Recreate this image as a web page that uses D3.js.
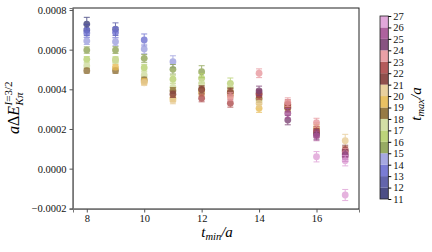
<!DOCTYPE html>
<html>
<head>
<meta charset="utf-8">
<script src="https://cdn.jsdelivr.net/npm/d3@7"></script>
<style>
body { margin: 0; background: #fff; }
</style>
</head>
<body>
<div id="viz"></div>
<script>
var width = 432;
var height = 252;
var serif = "'Liberation Serif', 'Times New Roman', serif";

// t_min values on the x axis
var tMins = [8, 9, 10, 11, 12, 13, 14, 15, 16, 17];
// for each t_min, t_max runs from t_min+3 to t_min+10
var tMaxOffsets = [3, 4, 5, 6, 7, 8, 9, 10];

var energies = [
	[0.000729, 0.000699, 0.000684, 0.000644, 0.000598, 0.000551, 0.000519, 0.000494],
	[0.000703, 0.000686, 0.000640, 0.000598, 0.000549, 0.000545, 0.000494, 0.000512],
	[0.000649, 0.000603, 0.000556, 0.000509, 0.000472, 0.000447, 0.000440, 0.000433],
	[0.000539, 0.000501, 0.000451, 0.000410, 0.000393, 0.000355, 0.000343, 0.000375],
	[0.000489, 0.000456, 0.000430, 0.000400, 0.000385, 0.000383, 0.000398, 0.000355],
	[0.000430, 0.000410, 0.000388, 0.000375, 0.000380, 0.000385, 0.000330, 0.000363],
	[0.000345, 0.000355, 0.000304, 0.000330, 0.000380, 0.000372, 0.000481, 0.000392],
	[0.000305, 0.000315, 0.000320, 0.000310, 0.000325, 0.000335, 0.000245, 0.000279],
	[0.000200, 0.000209, 0.000181, 0.000190, 0.000232, 0.000172, 0.000165, 0.000060],
	[0.000141, 0.000094, 0.000086, 0.000078, 0.000070, 0.000060, 0.000040, -0.000133]
];

var errors = [
	[0.000034, 0.000028, 0.000022, 0.000018, 0.000016, 0.000014, 0.000013, 0.000012],
	[0.000032, 0.000026, 0.000020, 0.000017, 0.000015, 0.000014, 0.000013, 0.000013],
	[0.000030, 0.000024, 0.000020, 0.000017, 0.000015, 0.000014, 0.000014, 0.000014],
	[0.000030, 0.000024, 0.000020, 0.000018, 0.000016, 0.000016, 0.000016, 0.000016],
	[0.000030, 0.000024, 0.000020, 0.000018, 0.000017, 0.000017, 0.000018, 0.000018],
	[0.000027, 0.000022, 0.000020, 0.000018, 0.000018, 0.000018, 0.000020, 0.000020],
	[0.000020, 0.000020, 0.000020, 0.000020, 0.000020, 0.000022, 0.000022, 0.000024],
	[0.000020, 0.000020, 0.000020, 0.000021, 0.000022, 0.000022, 0.000024, 0.000024],
	[0.000022, 0.000022, 0.000022, 0.000022, 0.000022, 0.000024, 0.000024, 0.000026],
	[0.000032, 0.000024, 0.000024, 0.000024, 0.000024, 0.000024, 0.000026, 0.000028]
];

var yTicks = [-0.0002, 0.0000, 0.0002, 0.0004, 0.0006, 0.0008];
var xTicks = [8, 10, 12, 14, 16];
var tMaxTicks = d3.range(11, 28);

// one colour per colorbar bin (tab20b picks)
var binColors = ["#393b79", "#5254a3", "#6b6ecf", "#9c9ede",
	"#8ca252", "#b5cf6b", "#cedb9c",
	"#8c6d31", "#e7ba52", "#e7cb94",
	"#843c39", "#ad494a", "#e7969c",
	"#7b4173", "#a55194", "#de9ed6"];

var points = [];
tMins.forEach(function(t, i){
	tMaxOffsets.forEach(function(o, j){
		points.push({tmin: t, tmax: t + o, e: energies[i][j], err: errors[i][j]});
	});
});

var svg = d3.select('#viz')
	.append('svg')
	.attr("width", width)
	.attr("height", height);

var x = d3.scaleLinear().domain([7.52, 17.48]).range([73, 359]);
var y = d3.scaleLinear().domain([-0.0002035, 0.00081]).range([209, 8]);

var colorScale = d3.scaleQuantize().domain([11, 27]).range(binColors);
function colorOf(v){ return v >= 27 ? binColors[15] : colorScale(v); }

// frame
svg.append("rect")
	.attr("x", 73).attr("y", 8)
	.attr("width", 286).attr("height", 201)
	.attr("fill", "none")
	.attr("stroke", "#222")
	.attr("stroke-width", 1);

var xAxis = d3.axisBottom(x).tickValues(xTicks).tickSize(3.5).tickPadding(2).tickFormat(d3.format("d"));
var yAxis = d3.axisLeft(y).tickValues(yTicks).tickSize(3.5).tickPadding(3)
	.tickFormat(function(d){ return d3.format(".4f")(d).replace("-", "\u2212"); });

var gx = svg.append("g").attr("transform", "translate(0,209)").call(xAxis);
var gy = svg.append("g").attr("transform", "translate(73,0)").call(yAxis);
[gx, gy].forEach(function(g){
	g.attr("font-family", null);
	g.select(".domain").attr("stroke", "#777");
	g.selectAll(".tick line").attr("stroke", "#555");
	g.selectAll("text").attr("fill", "#111")
		.style("font-size", "10.5px")
		.style("font-family", serif);
});

// error bars + markers
var marks = svg.append("g").selectAll("g")
	.data(points)
	.enter()
	.append("g")
	.attr("opacity", 0.78);

marks.append("line")
	.attr("x1", function(d){ return x(d.tmin); })
	.attr("x2", function(d){ return x(d.tmin); })
	.attr("y1", function(d){ return y(d.e - d.err); })
	.attr("y2", function(d){ return y(d.e + d.err); })
	.attr("stroke", function(d){ return colorOf(d.tmax); })
	.attr("stroke-width", 1);

[-1, 1].forEach(function(s){
	marks.append("line")
		.attr("x1", function(d){ return x(d.tmin) - 3; })
		.attr("x2", function(d){ return x(d.tmin) + 3; })
		.attr("y1", function(d){ return y(d.e + s * d.err); })
		.attr("y2", function(d){ return y(d.e + s * d.err); })
		.attr("stroke", function(d){ return colorOf(d.tmax); })
		.attr("stroke-width", 1);
});

marks.append("circle")
	.attr("cx", function(d){ return x(d.tmin); })
	.attr("cy", function(d){ return y(d.e); })
	.attr("r", 3.4)
	.attr("fill", function(d){ return colorOf(d.tmax); });

// x label
var xl = svg.append("text")
	.attr("x", 217).attr("y", 237)
	.attr("text-anchor", "middle")
	.style("font-family", serif)
	.style("font-size", "15px")
	.style("font-style", "italic");
xl.append("tspan").text("t");
xl.append("tspan").style("font-size", "10.5px").attr("dy", 2.5).text("min");
xl.append("tspan").attr("dy", -2.5).text("/a");

// y label: a ΔE^{I=3/2}_{Kπ}
var yl = svg.append("g").attr("transform", "translate(19,134) rotate(-90)");
var ymain = yl.append("text").attr("x", 0).attr("y", 0)
	.style("font-family", serif).style("font-size", "16px");
ymain.append("tspan").style("font-style", "italic").text("a");
ymain.append("tspan").text("\u0394");
ymain.append("tspan").style("font-style", "italic").text("E");
var mw = ymain.node().getComputedTextLength() + 0.5;
var sup = yl.append("text").attr("x", mw).attr("y", -7)
	.style("font-family", serif).style("font-size", "11px");
sup.append("tspan").style("font-style", "italic").text("I");
sup.append("tspan").text("=3/2");
yl.append("text").attr("x", mw).attr("y", 4)
	.style("font-family", serif).style("font-size", "11px")
	.style("font-style", "italic").text("K\u03c0");

// colorbar
var cb = d3.scaleLinear().domain([11, 27]).range([199, 16]);
svg.append("g").selectAll("rect")
	.data(binColors)
	.enter()
	.append("rect")
	.attr("x", 380)
	.attr("y", function(d, i){ return cb(12 + i); })
	.attr("width", 8.3)
	.attr("height", function(d, i){ return cb(11 + i) - cb(12 + i); })
	.attr("fill", function(d){ return d; })
	.attr("opacity", 0.9);

svg.append("rect")
	.attr("x", 380).attr("y", 16)
	.attr("width", 8.3).attr("height", 183)
	.attr("fill", "none").attr("stroke", "#222").attr("stroke-width", 0.8);

var cbAxis = d3.axisRight(cb).tickValues(tMaxTicks).tickSize(3).tickPadding(2).tickFormat(d3.format("d"));
var gc = svg.append("g").attr("transform", "translate(388.3,0)").call(cbAxis);
gc.attr("font-family", null);
gc.select(".domain").remove();
gc.selectAll("text").attr("fill", "#111")
	.style("font-size", "10.5px")
	.style("font-family", serif);

var cl = svg.append("text")
	.attr("transform", "translate(421,104) rotate(-90)")
	.attr("text-anchor", "middle")
	.style("font-family", serif)
	.style("font-size", "15px")
	.style("font-style", "italic");
cl.append("tspan").text("t");
cl.append("tspan").style("font-size", "10.5px").attr("dy", 2.5).text("max");
cl.append("tspan").attr("dy", -2.5).text("/a");
</script>
</body>
</html>
